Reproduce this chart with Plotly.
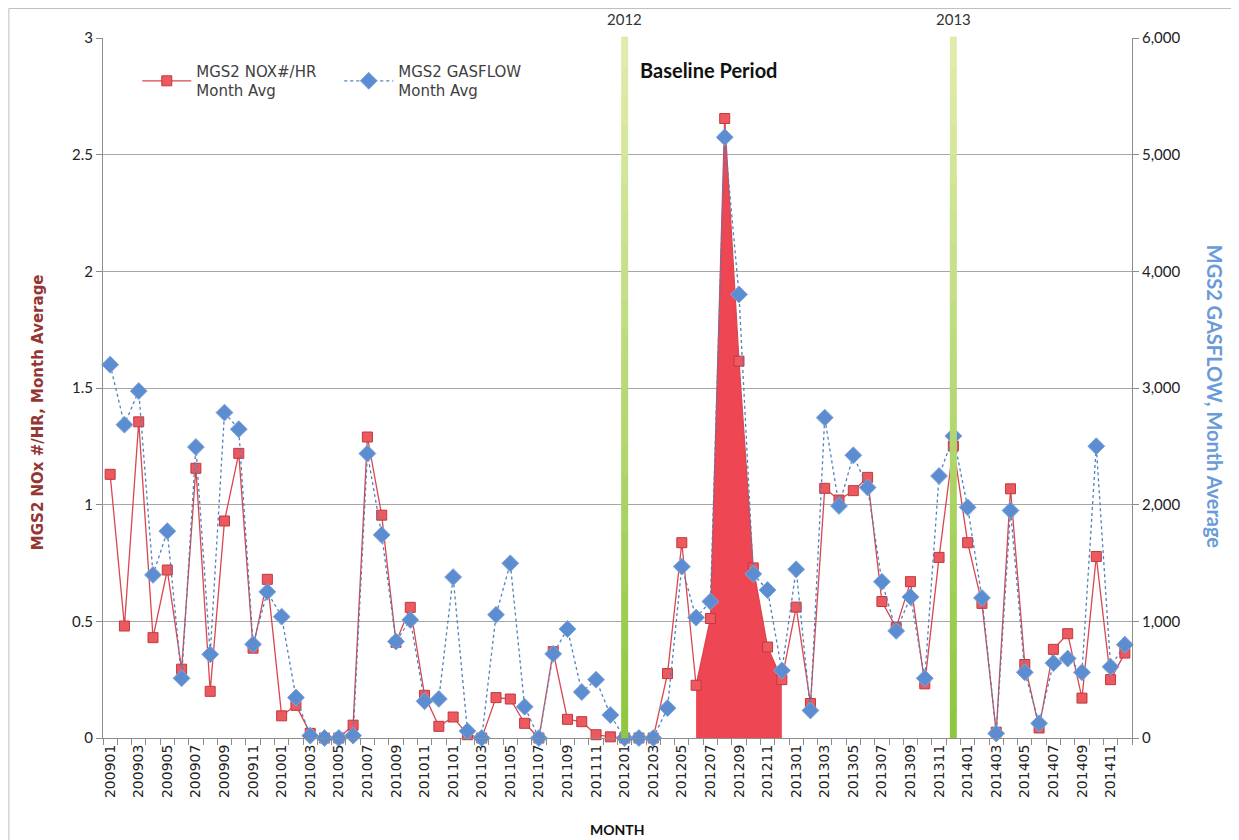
import plotly.graph_objects as go

months = [f"{y}{m:02d}" for y in range(2009, 2015) for m in range(1, 13)]

nox = [1.13, 0.48, 1.355, 0.43, 0.72, 0.295, 1.156, 0.20, 0.93, 1.22, 0.385, 0.68,
       0.095, 0.14, 0.02, 0.0, 0.0, 0.055, 1.29, 0.955, 0.41, 0.56, 0.183, 0.05,
       0.09, 0.014, 0.0, 0.173, 0.167, 0.063, 0.0, 0.37, 0.08, 0.07, 0.014, 0.005,
       0.0, 0.0, 0.0, 0.276, 0.837, 0.226, 0.512, 2.655, 1.615, 0.729, 0.39, 0.25,
       0.561, 0.148, 1.07, 1.02, 1.06, 1.117, 0.585, 0.473, 0.67, 0.232, 0.774, 1.251,
       0.837, 0.577, 0.025, 1.068, 0.315, 0.043, 0.38, 0.447, 0.171, 0.778, 0.25, 0.364]

gasflow = [3200, 2686, 2974, 1398, 1773, 512, 2494, 717, 2789, 2647, 804, 1253,
           1040, 347, 20, 0, 0, 20, 2438, 1741, 827, 1012, 315, 335,
           1379, 59, 0, 1056, 1497, 268, 0, 721, 934, 394, 500, 197,
           0, 0, 0, 256, 1469, 1032, 1170, 5149, 3802, 1406, 1268, 579,
           1446, 236, 2746, 1989, 2423, 2147, 1339, 918, 1209, 512, 2246, 2588,
           1977, 1201, 39, 1950, 563, 126, 642, 681, 563, 2501, 611, 800]

baseline_start, baseline_end = "201206", "201212"
year_marks = {"201201": "2012", "201312": "2013"}

idx = list(range(len(months)))
b0, b1 = months.index(baseline_start), months.index(baseline_end)

FONT_T = "DejaVu Sans"
FONT_N = "Lato"

fig = go.Figure()

# baseline filled area
fig.add_trace(go.Scatter(
    x=idx[b0:b1 + 1], y=nox[b0:b1 + 1], mode="lines", fill="tozeroy",
    fillcolor="#EE4753", line=dict(width=0, color="#EE4753"),
    showlegend=False, hoverinfo="skip"))

fig.add_trace(go.Scatter(
    x=idx, y=nox, mode="lines+markers", name="MGS2 NOX#/HR<br>Month Avg",
    line=dict(color="#D9474F", width=1.3),
    marker=dict(symbol="square", size=10, color="#EC5A60",
                line=dict(color="#C0393F", width=1)),
    cliponaxis=False))

fig.add_trace(go.Scatter(
    x=idx, y=gasflow, mode="lines+markers", name="MGS2 GASFLOW<br>Month Avg",
    yaxis="y2",
    line=dict(color="#4F81BD", width=1.3, dash="dot"),
    marker=dict(symbol="diamond", size=13, color="#5B8DD0",
                line=dict(color="#7FA7DC", width=1)),
    cliponaxis=False))


def mix(c1, c2, t):
    a = [int(c1[i:i + 2], 16) for i in (1, 3, 5)]
    b = [int(c2[i:i + 2], 16) for i in (1, 3, 5)]
    return "#" + "".join(f"{round(a[k] + (b[k] - a[k]) * t):02x}" for k in range(3))


shapes = []
annotations = []
NSEG = 24
for m, lab in year_marks.items():
    i = months.index(m)
    for s in range(NSEG):
        t = (s + 0.5) / NSEG
        shapes.append(dict(type="line", xref="x", yref="paper", x0=i, x1=i,
                           y0=s / NSEG, y1=(s + 1) / NSEG + 0.002,
                           line=dict(color=mix("#8EC63F", "#E2ECAE", t), width=7),
                           layer="above"))
    annotations.append(dict(x=i, xref="x", y=1.0, yref="paper", yanchor="middle",
                            yshift=19, text=lab, showarrow=False,
                            font=dict(family=FONT_N, size=15, color="#333333")))

# chart-area border (top and left edges)
shapes += [
    dict(type="line", xref="paper", yref="paper", x0=-0.0915, x1=1.2,
         y0=1.0421, y1=1.0421, line=dict(color="#BFBFBF", width=1)),
    dict(type="line", xref="paper", yref="paper", x0=-0.0915, x1=-0.0915,
         y0=-0.2, y1=1.0421, line=dict(color="#BFBFBF", width=1)),
]

annotations += [
    dict(x=0.52, xref="paper", y=0.954, yref="paper", text="<b>Baseline Period</b>",
         showarrow=False, xanchor="left", yanchor="middle",
         font=dict(family=FONT_N, size=20, color="#111111")),
    dict(x=-0.0638, xref="paper", y=0.466, yref="paper", xanchor="center",
         yanchor="middle", text="<b>MGS2 NOx #/HR, Month Average</b>",
         textangle=-90, showarrow=False,
         font=dict(family=FONT_T, size=15, color="#943634")),
    dict(x=1.081, xref="paper", y=0.487, yref="paper", xanchor="center",
         yanchor="middle", text="<b>MGS2 GASFLOW, Month Average</b>",
         textangle=90, showarrow=False,
         font=dict(family=FONT_N, size=20, color="#6A9BD8")),
    dict(x=0.5, xref="paper", y=-0.131, yref="paper", yanchor="middle", text="<b>MONTH</b>",
         showarrow=False, font=dict(family=FONT_N, size=14, color="#111111")),
]

fig.update_layout(
    width=1231, height=832,
    margin=dict(l=95, r=107, t=30, b=102),
    paper_bgcolor="white", plot_bgcolor="white",
    showlegend=True,
    legend=dict(orientation="h", x=0.0333, y=0.976, xanchor="left", yanchor="top",
                font=dict(family=FONT_T, size=15, color="#404040"),
                bgcolor="rgba(0,0,0,0)", itemwidth=49, entrywidth=138,
                tracegroupgap=0),
    xaxis=dict(range=[-0.5, len(months) - 0.5], tickmode="array",
               tickvals=idx[::2], ticktext=months[::2], tickangle=-90,
               ticks="", showgrid=False, zeroline=False,
               showline=True, linecolor="#8C8C8C", linewidth=1,
               tickfont=dict(family=FONT_T, size=14, color="#222222"),
               minor=dict(ticks="outside", tick0=-0.5, dtick=1, ticklen=6,
                          tickcolor="#8C8C8C", showgrid=False)),
    yaxis=dict(range=[0, 3], dtick=0.5, showgrid=True, gridcolor="#A6A6A6",
               gridwidth=1, zeroline=False, showline=True, linecolor="#8C8C8C",
               ticks="outside", ticklen=6, tickcolor="#8C8C8C",
               tickfont=dict(family=FONT_N, size=15, color="#222222")),
    yaxis2=dict(range=[0, 6000], dtick=1000, overlaying="y", side="right",
                showgrid=False, zeroline=False, showline=True, linecolor="#8C8C8C",
                ticks="outside", ticklen=6, tickcolor="#8C8C8C", tickformat=",",
                tickfont=dict(family=FONT_N, size=15, color="#222222")),
    shapes=shapes, annotations=annotations,
)

fig.write_html("out.html")
